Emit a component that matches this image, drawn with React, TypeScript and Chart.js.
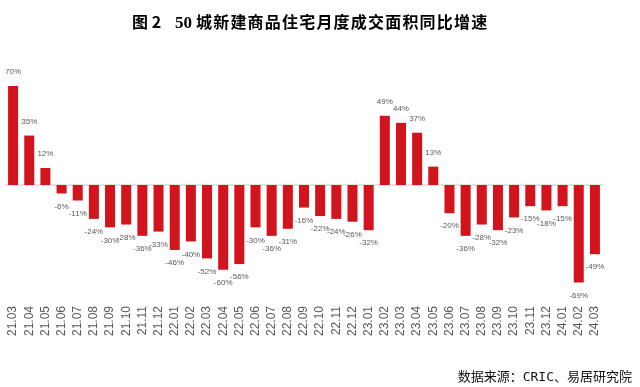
import React, { useEffect, useRef } from "react";
import { Chart, registerables } from "chart.js";

Chart.register(...registerables);

const titleFigure = "图 2";
const titleNumber = "50";
const titleRest = "城新建商品住宅月度成交面积同比增速";
const sourceText = "数据来源：CRIC、易居研究院";

const months: string[] = [
  "21.03", "21.04", "21.05", "21.06", "21.07", "21.08", "21.09", "21.10", "21.11", "21.12",
  "22.01", "22.02", "22.03", "22.04", "22.05", "22.06", "22.07", "22.08", "22.09", "22.10", "22.11", "22.12",
  "23.01", "23.02", "23.03", "23.04", "23.05", "23.06", "23.07", "23.08", "23.09", "23.10", "23.11", "23.12",
  "24.01", "24.02", "24.03",
];

const yoyGrowth: number[] = [
  70, 35, 12, -6, -11, -24, -30, -28, -36, -33,
  -46, -40, -52, -60, -56, -30, -36, -31, -16, -22, -24, -26,
  -32, 49, 44, 37, 13, -20, -36, -28, -32, -23, -15, -18,
  -15, -69, -49,
];

const BAR_COLOR = "#D2141D";

const labelPlugin = {
  id: "barLabels",
  afterDatasetsDraw(chart: any) {
    const ctx = chart.ctx;
    const meta = chart.getDatasetMeta(0);
    ctx.save();
    ctx.font = "8px 'Liberation Sans', Arial, sans-serif";
    ctx.fillStyle = "#595959";
    ctx.textAlign = "center";
    ctx.textBaseline = "middle";
    meta.data.forEach((bar: any, i: number) => {
      const v = yoyGrowth[i];
      const y = v >= 0 ? bar.y - 14 : bar.y + 13;
      ctx.fillText(`${v}%`, bar.x, y);
    });
    ctx.restore();
  },
};

const zeroLinePlugin = {
  id: "zeroLine",
  beforeDatasetsDraw(chart: any) {
    const { ctx, chartArea, scales } = chart;
    const y0 = scales.y.getPixelForValue(0);
    ctx.save();
    ctx.strokeStyle = "#D9D9D9";
    ctx.lineWidth = 1.5;
    ctx.beginPath();
    ctx.moveTo(chartArea.left, y0);
    ctx.lineTo(chartArea.right, y0);
    ctx.stroke();
    ctx.restore();
  },
};

const titleFont: React.CSSProperties = {
  position: "absolute",
  top: 11,
  fontFamily: "'Noto Sans CJK SC', serif",
  fontWeight: "bold",
  fontSize: 16,
  lineHeight: "20px",
  color: "#000",
  whiteSpace: "nowrap",
};

export default function App() {
  const canvasRef = useRef<HTMLCanvasElement | null>(null);

  useEffect(() => {
    document.body.style.margin = "0";
    const canvas = canvasRef.current;
    if (!canvas) return;
    const chart = new Chart(canvas, {
      type: "bar",
      data: {
        labels: months,
        datasets: [
          {
            data: yoyGrowth,
            backgroundColor: BAR_COLOR,
            barPercentage: 0.62,
            categoryPercentage: 1.0,
          },
        ],
      },
      options: {
        animation: false,
        responsive: false,
        maintainAspectRatio: false,
        layout: { padding: { top: 72, left: 5, right: 37, bottom: 43 } },
        plugins: {
          legend: { display: false },
          tooltip: { enabled: false },
          title: { display: false },
        },
        scales: {
          x: {
            grid: { display: false, drawTicks: false },
            border: { display: false },
            ticks: {
              color: "#595959",
              font: { family: "'Liberation Sans', Arial, sans-serif", size: 12 },
              minRotation: 90,
              maxRotation: 90,
              autoSkip: false,
              padding: 8,
            },
          },
          y: {
            display: false,
            min: -80,
            max: 80,
          },
        },
      },
      plugins: [labelPlugin, zeroLinePlugin],
    });
    return () => chart.destroy();
  }, []);

  return (
    <div style={{ position: "relative", width: 640, height: 387, background: "#fff", overflow: "hidden" }}>
      <canvas ref={canvasRef} width={640} height={387} style={{ position: "absolute", left: 0, top: 0 }} />
      <span style={{ ...titleFont, left: 132 }}>{titleFigure}</span>
      <span style={{ ...titleFont, top: 13, left: 175, fontFamily: "'Liberation Serif', serif", fontSize: 17 }}>{titleNumber}</span>
      <span style={{ ...titleFont, left: 196, letterSpacing: "1.2px" }}>{titleRest}</span>
      <div
        style={{
          position: "absolute",
          right: 8,
          top: 368,
          fontFamily: "'DejaVu Sans Mono', 'Noto Sans CJK SC', monospace",
          fontSize: 13,
          lineHeight: "18px",
          color: "#111",
          whiteSpace: "nowrap",
        }}
      >
        {sourceText}
      </div>
    </div>
  );
}
